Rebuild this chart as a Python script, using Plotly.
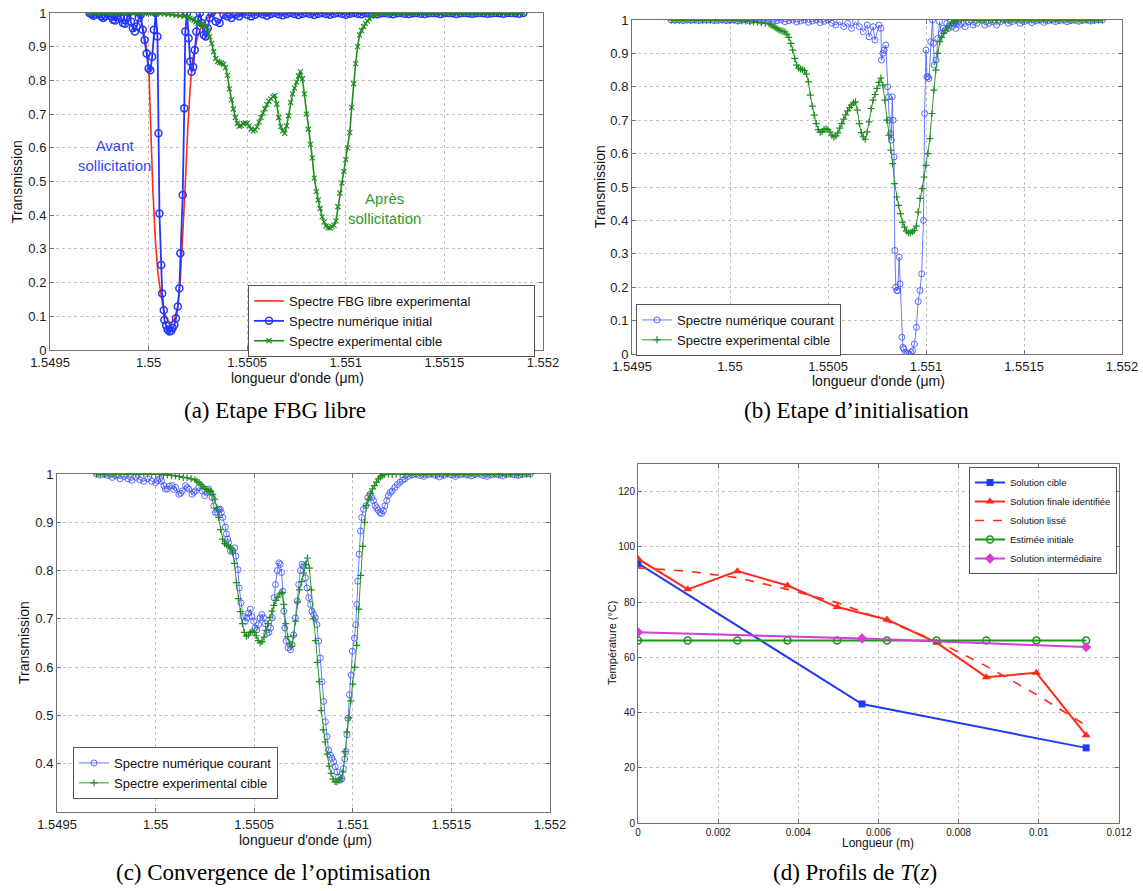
import plotly.graph_objects as go

# ---------------- DATA ----------------
# (a) free FBG experimental spectrum (red line)
lam_libre = [1.5497, 1.5498, 1.5499, 1.54994, 1.549955, 1.549972, 1.549988, 1.550002, 1.550007, 1.550013,
             1.550022, 1.550034, 1.550047, 1.550064, 1.55008, 1.550097, 1.550114, 1.550131, 1.550148, 1.550161,
             1.550173, 1.550186, 1.550198, 1.550211, 1.550223, 1.550237, 1.550248, 1.550265, 1.55029, 1.550315,
             1.55034, 1.5504, 1.5505, 1.551, 1.5515, 1.5519]
T_libre = [1.0, 1.0, 1.0, 0.998, 0.99, 0.955, 0.9, 0.83, 0.73, 0.61,
           0.47, 0.33, 0.23, 0.16, 0.11, 0.086, 0.08, 0.09, 0.13, 0.21,
           0.33, 0.49, 0.65, 0.78, 0.86, 0.905, 0.93, 0.955, 0.98, 0.995,
           1.0, 1.0, 1.0, 1.0, 1.0, 1.0]

# experimental target spectrum (green), used in (a), (b), (c)
lam_cible = [1.5497, 1.54972, 1.54974, 1.54976, 1.54978, 1.5498, 1.54982, 1.54984, 1.54986, 1.54988,
             1.5499, 1.54992, 1.54994, 1.54996, 1.54998, 1.55, 1.55002, 1.55004, 1.55006, 1.55008,
             1.5501, 1.55012, 1.55014, 1.55016, 1.55018, 1.5502,
             1.55021, 1.55022, 1.55023, 1.55024, 1.55025, 1.55026, 1.55027, 1.55028, 1.55029, 1.5503,
             1.55031, 1.55032, 1.55033, 1.55034, 1.55035, 1.55036, 1.55037, 1.55038, 1.55039, 1.5504,
             1.55041, 1.55042, 1.55043, 1.55044, 1.55045, 1.55046, 1.55047, 1.55048, 1.55049, 1.5505,
             1.55051, 1.55052, 1.55053, 1.55054, 1.55055, 1.55056, 1.55057, 1.55058, 1.55059, 1.5506,
             1.55061, 1.55062, 1.55063, 1.55064, 1.55065, 1.55066, 1.55067, 1.55068, 1.55069, 1.5507,
             1.55071, 1.55072, 1.55073, 1.55074, 1.55075, 1.55076, 1.55077, 1.55078, 1.55079, 1.5508,
             1.55081, 1.55082, 1.55083, 1.55084, 1.55085, 1.55086, 1.55087, 1.55088, 1.55089, 1.5509,
             1.55091, 1.55092, 1.55093, 1.55094, 1.55095, 1.55096, 1.55097, 1.55098, 1.55099, 1.551,
             1.55101, 1.55102, 1.55103, 1.55104, 1.55105, 1.55106, 1.55107, 1.55108, 1.55109, 1.5511,
             1.55111, 1.55112, 1.55113, 1.55114, 1.55115, 1.55116,
             1.55118, 1.5512, 1.55122, 1.55124, 1.55126, 1.55128, 1.5513, 1.55132, 1.55134, 1.55136,
             1.55138, 1.5514, 1.55142, 1.55144, 1.55146, 1.55148, 1.5515, 1.55152, 1.55154, 1.55156,
             1.55158, 1.5516, 1.55162, 1.55164, 1.55166, 1.55168, 1.5517, 1.55172, 1.55174, 1.55176,
             1.55178, 1.5518, 1.55182, 1.55184, 1.55186, 1.55188, 1.5519]
T_cible = [1.0, 1.0, 0.999, 1.0, 1.0, 0.999, 1.0, 1.0, 0.999, 1.0,
           1.0, 0.999, 1.0, 1.0, 0.999, 0.999, 0.999, 0.998, 0.998, 0.997,
           0.996, 0.995, 0.993, 0.992, 0.99, 0.988,
           0.985, 0.982, 0.978, 0.974, 0.97, 0.968, 0.966, 0.964, 0.958, 0.948,
           0.93, 0.91, 0.885, 0.865, 0.856, 0.853, 0.851, 0.848, 0.838, 0.815,
           0.775, 0.742, 0.715, 0.69, 0.672, 0.664, 0.666, 0.672, 0.674, 0.672,
           0.665, 0.655, 0.65, 0.653, 0.662, 0.676, 0.69, 0.703, 0.716, 0.728,
           0.738, 0.745, 0.752, 0.755, 0.73, 0.69, 0.663, 0.65, 0.643, 0.665,
           0.695, 0.735, 0.76, 0.777, 0.795, 0.813, 0.826, 0.805, 0.76, 0.7,
           0.655, 0.61, 0.57, 0.51, 0.47, 0.445, 0.42, 0.395, 0.38, 0.368,
           0.363, 0.362, 0.366, 0.37, 0.383, 0.425, 0.466, 0.495, 0.53, 0.565,
           0.6, 0.645, 0.72, 0.79, 0.85, 0.9, 0.935, 0.948, 0.96, 0.969,
           0.976, 0.983, 0.99, 0.994, 0.997, 0.999,
           1.0, 0.999, 1.0, 1.0, 0.999, 1.0, 0.999, 1.0, 1.0, 0.999,
           1.0, 1.0, 0.999, 1.0, 0.999, 1.0, 1.0, 0.999, 1.0, 1.0,
           0.999, 1.0, 0.999, 1.0, 1.0, 0.999, 1.0, 1.0, 0.999, 1.0,
           0.999, 1.0, 1.0, 0.999, 1.0, 1.0, 1.0]

# (a) initial numerical spectrum (blue circles)
lam_init = [1.5497, 1.54971, 1.54972, 1.54973, 1.54974, 1.54975, 1.54976, 1.54977, 1.54978, 1.54979,
            1.5498, 1.54981, 1.54982, 1.54983, 1.54984, 1.54985, 1.54986, 1.54987, 1.54988, 1.54989,
            1.5499, 1.54991, 1.54992, 1.54993, 1.54994, 1.54995, 1.54996, 1.54997, 1.54998, 1.54999,
            1.55, 1.550009, 1.550018, 1.550027, 1.550036, 1.550045, 1.55005, 1.550055, 1.550064, 1.550069,
            1.550077, 1.55008, 1.550089, 1.550097, 1.550106, 1.550114, 1.550122, 1.550131, 1.550139, 1.550148,
            1.550156, 1.550161, 1.550173, 1.550181, 1.550186, 1.550195, 1.550203, 1.550211, 1.550218, 1.550226,
            1.550234, 1.550242, 1.55025, 1.55026, 1.55027, 1.55028, 1.55029, 1.5503, 1.55031, 1.55032,
            1.55034, 1.55036, 1.55038, 1.5504, 1.55042, 1.55044, 1.55046, 1.55048,
            1.5505, 1.55052, 1.55054, 1.55056, 1.55058, 1.5506, 1.55062, 1.55064, 1.55066, 1.55068,
            1.5507, 1.55072, 1.55074, 1.55076, 1.55078, 1.5508, 1.55082, 1.55084, 1.55086, 1.55088,
            1.5509, 1.55092, 1.55094, 1.55096, 1.55098, 1.551, 1.55102, 1.55104, 1.55106, 1.55108,
            1.5511, 1.55112, 1.55114, 1.55116, 1.55118, 1.5512, 1.55122, 1.55124, 1.55126, 1.55128,
            1.5513, 1.55132, 1.55134, 1.55136, 1.55138, 1.5514, 1.55142, 1.55144, 1.55146, 1.55148,
            1.5515, 1.55152, 1.55154, 1.55156, 1.55158, 1.5516, 1.55162, 1.55164, 1.55166, 1.55168,
            1.5517, 1.55172, 1.55174, 1.55176, 1.55178, 1.5518, 1.55182, 1.55184, 1.55186, 1.55188,
            1.5519]
T_init = [1.0, 0.997, 0.992, 0.995, 1.0, 0.998, 0.99, 0.985, 0.99, 0.998,
          1.0, 0.99, 0.98, 0.978, 0.99, 1.0, 0.985, 0.97, 0.968, 0.985,
          1.0, 0.975, 0.955, 0.945, 0.96, 0.985, 0.995, 0.95, 0.92, 0.88,
          0.835, 0.83, 0.87, 0.95, 1.0, 0.93, 0.643, 0.405, 0.252, 0.168,
          0.118, 0.089, 0.073, 0.06, 0.055, 0.057, 0.065, 0.075, 0.094, 0.129,
          0.183, 0.287, 0.46, 0.717, 0.945, 1.0, 0.925, 0.856, 0.826, 0.84,
          0.89, 0.945, 0.98, 1.0, 0.97, 0.935, 0.93, 0.955, 0.985, 1.0,
          0.975, 0.97, 0.995, 0.99, 0.985, 0.995, 0.99, 1.0,
          0.995, 0.99, 0.995, 1.0, 0.996, 0.992, 0.997, 1.0, 0.996, 0.993,
          0.997, 1.0, 0.997, 0.994, 0.998, 1.0, 0.997, 0.994, 0.998, 1.0,
          0.997, 0.995, 0.998, 1.0, 0.998, 0.995, 0.998, 1.0, 0.998, 0.996,
          0.999, 1.0, 0.998, 0.996, 0.999, 1.0, 0.998, 0.996, 0.999, 1.0,
          0.998, 0.997, 0.999, 1.0, 0.998, 0.997, 0.999, 1.0, 0.999, 0.997,
          0.999, 1.0, 0.999, 0.997, 0.999, 1.0, 0.999, 0.998, 0.999, 1.0,
          0.999, 0.998, 0.999, 1.0, 0.999, 0.998, 1.0, 1.0, 0.999, 0.998,
          1.0]

# (b) current numerical spectrum after initialisation (blue circles)
lam_cour_b = [1.5497, 1.54972, 1.54974, 1.54976, 1.54978, 1.5498, 1.54982, 1.54984, 1.54986, 1.54988,
              1.5499, 1.54992, 1.54994, 1.54996, 1.54998, 1.55, 1.55002, 1.55004, 1.55006, 1.55008,
              1.5501, 1.55012, 1.55014, 1.55016, 1.55018, 1.5502, 1.55022, 1.55024, 1.55026, 1.55028,
              1.5503, 1.55032, 1.55034, 1.55036, 1.55038, 1.5504, 1.55042, 1.55044, 1.55046, 1.55048,
              1.5505,
              1.55052, 1.55054, 1.55056, 1.55058, 1.5506, 1.55062, 1.55064, 1.55066, 1.55068, 1.5507,
              1.55071, 1.55073, 1.55074, 1.55076, 1.55077, 1.550773, 1.55078, 1.550786, 1.550795, 1.550804,
              1.550809, 1.550813, 1.550819, 1.550823, 1.550828, 1.550832, 1.550837, 1.550841, 1.550846, 1.550851,
              1.550856, 1.550863, 1.550868, 1.550877, 1.550882, 1.550887, 1.550896, 1.550905, 1.550914, 1.550923,
              1.550932, 1.550941, 1.550951, 1.55096, 1.550969, 1.550978, 1.550987, 1.550993, 1.551, 1.551005,
              1.551009, 1.551015, 1.551024, 1.551033, 1.551038, 1.551042, 1.551051, 1.55106, 1.551069, 1.551079,
              1.551088, 1.551097, 1.551106, 1.551115, 1.551124, 1.551133, 1.551142, 1.551152, 1.551161, 1.55117,
              1.55118, 1.5512, 1.55122, 1.55124, 1.55126, 1.55128, 1.5513, 1.55132, 1.55134, 1.55136,
              1.55138, 1.5514, 1.55142, 1.55144, 1.55146, 1.55148, 1.5515, 1.55152, 1.55154, 1.55156,
              1.55158, 1.5516, 1.55162, 1.55164, 1.55166, 1.55168, 1.5517, 1.55172, 1.55174, 1.55176,
              1.55178, 1.5518, 1.55182, 1.55184, 1.55186, 1.55188, 1.5519]
T_cour_b = [1.0, 0.999, 1.0, 0.998, 1.0, 0.999, 1.0, 0.998, 1.0, 0.999,
            1.0, 0.998, 0.999, 1.0, 0.998, 0.999, 1.0, 0.997, 0.999, 1.0,
            0.997, 0.999, 1.0, 0.996, 0.998, 1.0, 0.996, 0.998, 1.0, 0.995,
            0.998, 1.0, 0.994, 0.997, 1.0, 0.993, 0.997, 1.0, 0.992, 0.996,
            1.0,
            0.99, 0.985, 0.995, 0.98, 0.99, 0.975, 0.995, 0.98, 0.965, 0.985,
            0.95, 0.98, 0.94, 0.985, 0.975, 0.88, 0.9, 0.91, 0.925, 0.8,
            0.77, 0.7, 0.66, 0.64, 0.77, 0.7, 0.59, 0.31, 0.2, 0.19,
            0.19, 0.29, 0.21, 0.05, 0.02, 0.015, 0.005, 0.002, 0.0, 0.005,
            0.01, 0.03, 0.08, 0.157, 0.19, 0.24, 0.4, 0.72, 0.91, 0.83,
            0.83, 0.825, 0.935, 1.0, 0.93, 0.865, 0.88, 0.945, 0.995, 0.96,
            0.975, 0.97, 0.99, 0.975, 0.995, 0.98, 0.99, 0.975, 0.995, 0.985,
            0.99, 0.98, 0.995, 0.985, 0.99, 1.0, 0.985, 0.99, 0.995, 0.985,
            0.995, 1.0, 0.99, 0.995, 1.0, 0.99, 0.995, 1.0, 0.992, 0.997,
            1.0, 0.993, 0.997, 1.0, 0.995, 0.998, 1.0, 0.995, 0.998, 1.0,
            0.996, 0.999, 1.0, 0.997, 0.999, 1.0, 1.0]

# (c) current numerical spectrum after optimisation (blue circles)
lam_cour_c = [1.5497, 1.54972, 1.54974, 1.54976, 1.54978, 1.5498, 1.54982, 1.54984, 1.54986, 1.54988,
              1.5499, 1.54992, 1.54994, 1.54996, 1.54998, 1.55, 1.55001, 1.55002, 1.55003, 1.550042,
              1.55005, 1.550059, 1.55007, 1.550084, 1.550092, 1.550101, 1.550118, 1.550127, 1.550135, 1.550152,
              1.55016, 1.550168, 1.550185, 1.550194, 1.550202, 1.550219, 1.550236, 1.550249, 1.55026, 1.550269,
              1.550278, 1.550286, 1.550295, 1.550303, 1.550311, 1.55032, 1.550328, 1.550333, 1.55034, 1.550354,
              1.550359, 1.550365, 1.55037, 1.550379, 1.550391, 1.550401, 1.550407, 1.550418, 1.550424, 1.550433,
              1.550443, 1.550455, 1.550463, 1.550471, 1.55048, 1.550488, 1.550497, 1.550505, 1.550513, 1.550522,
              1.55053, 1.550539, 1.550547, 1.550556, 1.550564, 1.550574, 1.550583, 1.550592, 1.5506, 1.550608,
              1.550617, 1.550625, 1.550632, 1.550639, 1.550645, 1.55065, 1.550655, 1.550662, 1.550672, 1.550684,
              1.550692, 1.5507, 1.550709, 1.550718, 1.550726, 1.550734, 1.550743, 1.550751, 1.55076, 1.550768,
              1.550776, 1.550785, 1.550793, 1.550802, 1.55081, 1.550818, 1.550827, 1.550835, 1.550844, 1.550852,
              1.550861, 1.550869, 1.550877, 1.550886, 1.550894, 1.550903, 1.550911, 1.550919, 1.550928, 1.550936,
              1.550945, 1.550953, 1.550959, 1.550965, 1.55097, 1.550975, 1.550983, 1.550992, 1.550998, 1.551008,
              1.551015, 1.55102, 1.551025, 1.551032, 1.551039, 1.551045, 1.551054, 1.551066, 1.551076, 1.551087,
              1.551096, 1.551105, 1.551113, 1.551121, 1.551129, 1.551138, 1.551146, 1.551155, 1.551163, 1.551172,
              1.55118, 1.55119, 1.5512, 1.551213, 1.551226, 1.551239, 1.551252, 1.551264, 1.55128,
              1.5513, 1.55132, 1.55134, 1.55136, 1.55138, 1.5514, 1.55142, 1.55144, 1.55146, 1.55148,
              1.5515, 1.55152, 1.55154, 1.55156, 1.55158, 1.5516, 1.55162, 1.55164, 1.55166, 1.55168,
              1.5517, 1.55172, 1.55174, 1.55176, 1.55178, 1.5518, 1.55182, 1.55184, 1.55186, 1.55188,
              1.5519]
T_cour_c = [1.0, 0.998, 1.0, 0.997, 0.993, 0.996, 0.99, 0.995, 0.99, 0.987,
            0.993, 0.988, 0.985, 0.99, 0.985, 0.982, 0.986, 0.99, 0.985, 0.976,
            0.969, 0.969, 0.975, 0.976, 0.968, 0.972, 0.958, 0.96, 0.965, 0.976,
            0.972, 0.969, 0.958, 0.962, 0.965, 0.972, 0.965, 0.955, 0.962, 0.969,
            0.962, 0.951, 0.934, 0.92, 0.921, 0.927, 0.927, 0.92, 0.91, 0.89,
            0.876, 0.865, 0.858, 0.84, 0.84, 0.847, 0.83, 0.802, 0.764, 0.733,
            0.705, 0.695, 0.702, 0.712, 0.72, 0.705, 0.695, 0.681, 0.677, 0.688,
            0.702, 0.709, 0.702, 0.69, 0.67, 0.672, 0.681, 0.702, 0.744, 0.771,
            0.8, 0.816, 0.813, 0.796, 0.757, 0.716, 0.681, 0.654, 0.64, 0.636,
            0.647, 0.667, 0.702, 0.737, 0.771, 0.8, 0.813, 0.81, 0.785, 0.764,
            0.744, 0.73, 0.716, 0.709, 0.702, 0.688, 0.654, 0.619, 0.57, 0.529,
            0.487, 0.456, 0.428, 0.418, 0.411, 0.404, 0.394, 0.383, 0.373, 0.366,
            0.369, 0.39, 0.41, 0.425, 0.46, 0.494, 0.543, 0.584, 0.633, 0.66,
            0.688, 0.73, 0.778, 0.834, 0.882, 0.91, 0.927, 0.934, 0.951, 0.958,
            0.951, 0.945, 0.935, 0.93, 0.925, 0.92, 0.918, 0.924, 0.934, 0.945,
            0.955, 0.962, 0.965, 0.972, 0.978, 0.983, 0.987, 0.99, 0.995,
            0.998, 1.0, 0.997, 0.995, 0.998, 1.0, 0.997, 0.994, 0.997, 1.0,
            0.998, 0.995, 0.998, 1.0, 0.998, 0.996, 0.999, 1.0, 0.997, 0.995,
            0.998, 1.0, 0.998, 0.996, 0.999, 1.0, 0.998, 0.997, 0.999, 1.0,
            1.0]

# (d) temperature profiles
z_cible = [0.0, 0.00559, 0.01118]
T_sol_cible = [94.0, 43.1, 27.2]
z_pts = [0.0, 0.00124, 0.00248, 0.00373, 0.00497, 0.00621, 0.00745, 0.00869, 0.00994, 0.01118]
T_finale = [95.7, 84.6, 91.2, 86.0, 78.2, 73.7, 65.3, 52.8, 54.4, 31.8]
T_lisse = [92.4, 91.2, 88.8, 84.6, 79.8, 73.1, 65.9, 56.8, 46.5, 35.3]
T_initiale = [66.1, 66.1, 66.1, 66.1, 66.1, 66.1, 66.1, 66.1, 66.1, 66.1]
z_inter = [0.0, 0.00559, 0.01118]
T_inter = [69.1, 66.8, 63.7]

for a, b in [(lam_libre, T_libre), (lam_cible, T_cible), (lam_init, T_init),
             (lam_cour_b, T_cour_b), (lam_cour_c, T_cour_c)]:
    assert len(a) == len(b), (len(a), len(b))

# ticks
lam_ticks = [1.5495, 1.55, 1.5505, 1.551, 1.5515, 1.552]
lam_ticktext = ["1.5495", "1.55", "1.5505", "1.551", "1.5515", "1.552"]
T_ticks = [0, 0.1, 0.2, 0.3, 0.4, 0.5, 0.6, 0.7, 0.8, 0.9, 1]
T_ticktext = ["0", "0.1", "0.2", "0.3", "0.4", "0.5", "0.6", "0.7", "0.8", "0.9", "1"]
T_ticks_c = [0.4, 0.5, 0.6, 0.7, 0.8, 0.9, 1]
T_ticktext_c = ["0.4", "0.5", "0.6", "0.7", "0.8", "0.9", "1"]
z_ticks = [0, 0.002, 0.004, 0.006, 0.008, 0.01, 0.012]
z_ticktext = ["0", "0.002", "0.004", "0.006", "0.008", "0.01", "0.012"]
temp_ticks = [0, 20, 40, 60, 80, 100, 120]

# ---------------- FIGURE ----------------
W, H = 1143, 891
def fx(p):
    return p / W
def fy(p):
    return 1 - p / H

SANS = "Liberation Sans, Arial, sans-serif"
SERIF = "Liberation Serif, Times New Roman, serif"
BLUE = "#2236ff"
RED = "#ff2a1a"
GREEN = "#1e8c1e"
BLUE_L = "rgba(60,80,255,0.85)"
GREEN_L = "#2a9a2a"
PAD = "\u00a0" * 16  # legend (a) box is wider than its text in the reference

fig = go.Figure()

# (a)
fig.add_trace(go.Scatter(x=lam_libre, y=T_libre, mode="lines", name="Spectre FBG libre experimental" + PAD,
                         line=dict(color=RED, width=1.6), xaxis="x", yaxis="y", legend="legend"))
fig.add_trace(go.Scatter(x=lam_init, y=T_init, mode="lines+markers", name="Spectre numérique initial",
                         line=dict(color=BLUE, width=1.8),
                         marker=dict(symbol="circle-open", size=7, color=BLUE, line=dict(width=1.5, color=BLUE)),
                         xaxis="x", yaxis="y", legend="legend"))
fig.add_trace(go.Scatter(x=lam_cible, y=T_cible, mode="lines+markers", name="Spectre experimental cible",
                         line=dict(color=GREEN, width=1.6),
                         marker=dict(symbol="x-thin-open", size=5, color=GREEN, line=dict(width=1.2, color=GREEN)),
                         xaxis="x", yaxis="y", legend="legend"))

# (b)
fig.add_trace(go.Scatter(x=lam_cour_b, y=T_cour_b, mode="lines+markers", name="Spectre numérique courant",
                         line=dict(color=BLUE_L, width=0.9),
                         marker=dict(symbol="circle-open", size=6, color=BLUE_L, line=dict(width=1, color=BLUE_L)),
                         xaxis="x2", yaxis="y2", legend="legend2"))
fig.add_trace(go.Scatter(x=lam_cible, y=T_cible, mode="lines+markers", name="Spectre experimental cible",
                         line=dict(color=GREEN_L, width=1),
                         marker=dict(symbol="cross-thin-open", size=5, color=GREEN, line=dict(width=1.2, color=GREEN)),
                         xaxis="x2", yaxis="y2", legend="legend2"))

# (c)
fig.add_trace(go.Scatter(x=lam_cour_c, y=T_cour_c, mode="lines+markers", name="Spectre numérique courant",
                         line=dict(color=BLUE_L, width=0.9),
                         marker=dict(symbol="circle-open", size=6, color=BLUE_L, line=dict(width=1, color=BLUE_L)),
                         xaxis="x3", yaxis="y3", legend="legend3"))
fig.add_trace(go.Scatter(x=lam_cible, y=T_cible, mode="lines+markers", name="Spectre experimental cible",
                         line=dict(color=GREEN_L, width=1),
                         marker=dict(symbol="cross-thin-open", size=5, color=GREEN, line=dict(width=1.2, color=GREEN)),
                         xaxis="x3", yaxis="y3", legend="legend3"))

# (d)
fig.add_trace(go.Scatter(x=z_cible, y=T_sol_cible, mode="lines+markers", name="Solution cible",
                         line=dict(color="#1f3cf5", width=2), marker=dict(symbol="square", size=7, color="#1f3cf5"),
                         xaxis="x4", yaxis="y4", legend="legend4"))
fig.add_trace(go.Scatter(x=z_pts, y=T_finale, mode="lines+markers", name="Solution finale identifiée",
                         line=dict(color=RED, width=2), marker=dict(symbol="triangle-up", size=8, color=RED),
                         xaxis="x4", yaxis="y4", legend="legend4"))
fig.add_trace(go.Scatter(x=z_pts, y=T_lisse, mode="lines", name="Solution lissé",
                         line=dict(color=RED, width=1.6, dash="dash"),
                         xaxis="x4", yaxis="y4", legend="legend4"))
fig.add_trace(go.Scatter(x=z_pts, y=T_initiale, mode="lines+markers", name="Estimée initiale",
                         line=dict(color="#1a961a", width=2),
                         marker=dict(symbol="circle-open", size=7, color="#1a961a", line=dict(width=1.6, color="#1a961a")),
                         xaxis="x4", yaxis="y4", legend="legend4"))
fig.add_trace(go.Scatter(x=z_inter, y=T_inter, mode="lines+markers", name="Solution intermédiaire",
                         line=dict(color="#d63cd6", width=2), marker=dict(symbol="diamond", size=8, color="#d63cd6"),
                         xaxis="x4", yaxis="y4", legend="legend4"))

axis_common = dict(showline=True, linecolor="#707070", linewidth=1, mirror="ticks",
                   ticks="inside", ticklen=4, tickcolor="#707070",
                   showgrid=True, gridcolor="#c2c2c2", griddash="dot", gridwidth=1,
                   zeroline=False, fixedrange=True, automargin=False,
                   tickfont=dict(family=SANS, size=13, color="#1a1a1a"))
small_axis = dict(axis_common, tickfont=dict(family=SANS, size=10, color="#1a1a1a"))

# pixel boxes: (left, right, top, bottom)
box_a = (50, 543, 13, 350)
box_b = (632, 1122, 20, 354)
box_c = (57, 550, 474, 812)
box_d = (638, 1119, 464, 823)

def xdom(b):
    return [fx(b[0]), fx(b[1])]
def ydom(b):
    return [fy(b[3]), fy(b[2])]

leg_common = dict(yanchor="top", bgcolor="white", bordercolor="#555", borderwidth=1,
                  tracegroupgap=0, itemwidth=30)

fig.update_layout(
    width=W, height=H, margin=dict(l=0, r=0, t=0, b=0, autoexpand=False),
    paper_bgcolor="white", plot_bgcolor="white",
    xaxis=dict(axis_common, domain=xdom(box_a), range=[1.5495, 1.552], tickvals=lam_ticks, ticktext=lam_ticktext, anchor="y"),
    yaxis=dict(axis_common, domain=ydom(box_a), range=[0, 1], tickvals=T_ticks, ticktext=T_ticktext, anchor="x"),
    xaxis2=dict(axis_common, domain=xdom(box_b), range=[1.5495, 1.552], tickvals=lam_ticks, ticktext=lam_ticktext, anchor="y2"),
    yaxis2=dict(axis_common, domain=ydom(box_b), range=[0, 1], tickvals=T_ticks, ticktext=T_ticktext, anchor="x2"),
    xaxis3=dict(axis_common, domain=xdom(box_c), range=[1.5495, 1.552], tickvals=lam_ticks, ticktext=lam_ticktext, anchor="y3"),
    yaxis3=dict(axis_common, domain=ydom(box_c), range=[0.3, 1], tickvals=T_ticks_c, ticktext=T_ticktext_c, anchor="x3"),
    xaxis4=dict(small_axis, domain=xdom(box_d), range=[0, 0.012], tickvals=z_ticks, ticktext=z_ticktext, anchor="y4"),
    yaxis4=dict(small_axis, domain=ydom(box_d), range=[0, 130], tickvals=temp_ticks, anchor="x4"),
    legend=dict(leg_common, x=fx(248), y=fy(285), xanchor="left", font=dict(family=SANS, size=13, color="#111")),
    legend2=dict(leg_common, x=fx(636), y=fy(304), xanchor="left", font=dict(family=SANS, size=13, color="#111")),
    legend3=dict(leg_common, x=fx(73), y=fy(747), xanchor="left", font=dict(family=SANS, size=13, color="#111")),
    legend4=dict(leg_common, x=fx(1117), y=fy(467), xanchor="right", font=dict(family=SANS, size=9.5, color="#111")),
    showlegend=True,
)

ann = []
def label(text, x, y, size=14, angle=0, color="#111", family=SANS):
    ann.append(dict(text=text, x=fx(x), y=fy(y), xref="paper", yref="paper", showarrow=False,
                    xanchor="center", yanchor="middle", textangle=angle,
                    font=dict(family=family, size=size, color=color)))

label("Transmission", 17, 182, angle=-90)
label("longueur d'onde (μm)", 297, 378)
label("Transmission", 600, 187, angle=-90)
label("longueur d'onde (μm)", 878, 381)
label("Transmission", 24, 643, angle=-90)
label("longueur d'onde (μm)", 305, 840)
label("Température (°C)", 612, 643, size=11, angle=-90)
label("Longueur (m)", 878, 843, size=12)
label("Avant<br>sollicitation", 114, 156, size=15, color="#3344ff")
label("Après<br>sollicitation", 384, 209, size=15, color="#2e9a2e")
label("(a) Etape FBG libre", 275, 410, size=23, family=SERIF, color="#000")
label("(b) Etape d’initialisation", 856, 410, size=23, family=SERIF, color="#000")
label("(c) Convergence de l’optimisation", 273, 872, size=23, family=SERIF, color="#000")
label("(d) Profils de <i>T</i>(<i>z</i>)", 855, 872, size=23, family=SERIF, color="#000")
fig.update_layout(annotations=ann)

fig.write_html("out.html", config={"displayModeBar": False},
               post_script="document.body.style.margin='0px';document.body.style.overflow='hidden';")
